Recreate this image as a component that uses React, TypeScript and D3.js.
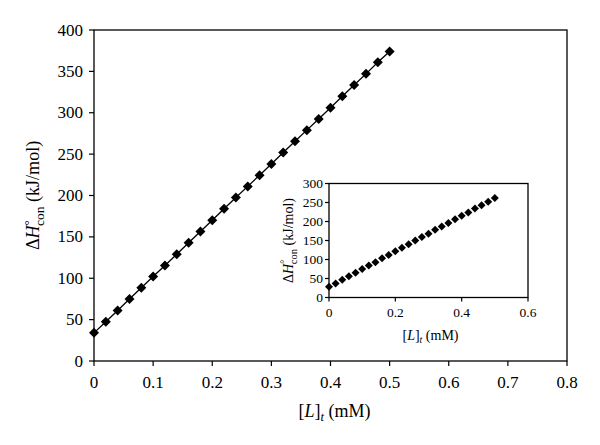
import React from "react";
import * as d3 from "d3";

const mainX = [0, 0.02, 0.04, 0.06, 0.08, 0.1, 0.12, 0.14, 0.16, 0.18, 0.2, 0.22, 0.24, 0.26, 0.28, 0.3, 0.32, 0.34, 0.36, 0.38, 0.4, 0.42, 0.44, 0.46, 0.48, 0.5];
const mainY = [34, 47.5, 61, 75, 88.5, 102, 115.5, 129, 143, 156.5, 170, 184, 197.5, 211, 224.5, 238, 252, 265.5, 279, 292.5, 306, 320, 333.5, 347, 361, 374];
const insetX = mainX;
const insetY = [28, 37, 47, 56, 65, 75, 84, 93, 103, 112, 122, 131, 140, 150, 159, 168, 178, 187, 196, 206, 215, 224, 234, 243, 252, 262];
const mainXTicks = [0, 0.1, 0.2, 0.3, 0.4, 0.5, 0.6, 0.7, 0.8];
const mainYTicks = [0, 50, 100, 150, 200, 250, 300, 350, 400];
const insetXTicks = [0, 0.2, 0.4, 0.6];
const insetYTicks = [0, 50, 100, 150, 200, 250, 300];

const FONT = "'Liberation Serif', 'Times New Roman', serif";

function Diamond({ cx, cy, r }: { cx: number; cy: number; r: number }) {
  return <path d={`M${cx},${cy - r}L${cx + r},${cy}L${cx},${cy + r}L${cx - r},${cy}Z`} fill="#000" />;
}

function Panel(props: {
  xs: number[]; ys: number[]; xTicks: number[]; yTicks: number[];
  x0: number; x1: number; y0: number; y1: number; xMax: number; yMax: number;
  fs: number; labelFs: number; r: number; tick: number; line: boolean;
  yLabelX: number; xLabelY: number; xLabelDX: number; xTickY: number; yTickX: number; fmt: (v: number) => string;
}) {
  const p = props;
  const x = d3.scaleLinear().domain([0, p.xMax]).range([p.x0, p.x1]);
  const y = d3.scaleLinear().domain([0, p.yMax]).range([p.y0, p.y1]);
  const pts = p.xs.map((v, i) => [x(v), y(p.ys[i])] as [number, number]);
  const lineGen = d3.line();
  const cy = (p.y0 + p.y1) / 2;
  const cx = (p.x0 + p.x1) / 2 + p.xLabelDX;
  return (
    <g fontFamily={FONT}>
      <rect x={p.x0} y={p.y1} width={p.x1 - p.x0} height={p.y0 - p.y1} fill="#fff" stroke="#000" strokeWidth={1.3} />
      {p.xTicks.map((t) => (
        <g key={"xt" + t}>
          <line x1={x(t)} x2={x(t)} y1={p.y0} y2={p.y0 + p.tick} stroke="#000" strokeWidth={1.2} />
          <text x={x(t)} y={p.xTickY} textAnchor="middle" fontSize={p.fs} dominantBaseline="middle">{p.fmt(t)}</text>
        </g>
      ))}
      {p.yTicks.map((t) => (
        <g key={"yt" + t}>
          <line x1={p.x0 - p.tick} x2={p.x0} y1={y(t)} y2={y(t)} stroke="#000" strokeWidth={1.2} />
          <text x={p.yTickX} y={y(t)} textAnchor="end" fontSize={p.fs} dominantBaseline="central">{t}</text>
        </g>
      ))}
      {p.line && <path d={lineGen(pts) || ""} fill="none" stroke="#000" strokeWidth={1.3} />}
      {pts.map((q, i) => <Diamond key={i} cx={q[0]} cy={q[1]} r={p.r} />)}
      <text transform={`translate(${p.yLabelX},${cy}) rotate(-90)`} textAnchor="middle" fontSize={p.labelFs}>
        Δ<tspan fontStyle="italic">H</tspan>
        <tspan fontSize={p.labelFs * 0.7} dy={-p.labelFs * 0.35}>°</tspan>
        <tspan fontSize={p.labelFs * 0.75} dx={-p.labelFs * 0.3} dy={p.labelFs * 0.6}>con</tspan>
        <tspan dy={-p.labelFs * 0.25}>{"\u00a0(kJ/mol)"}</tspan>
      </text>
      <text x={cx} y={p.xLabelY} textAnchor="middle" fontSize={p.labelFs}>
        [<tspan fontStyle="italic">L</tspan>]<tspan fontStyle="italic" fontSize={p.labelFs * 0.7} dy={p.labelFs * 0.2}>t</tspan>
        <tspan dy={-p.labelFs * 0.2}>{"\u00a0(mM)"}</tspan>
      </text>
    </g>
  );
}

export default function App() {
  return (
    <svg width={600} height={445} style={{ position: "absolute", left: 0, top: 0, background: "#fff" }}>
      <rect width={600} height={445} fill="#fff" />
      <Panel xs={mainX} ys={mainY} xTicks={mainXTicks} yTicks={mainYTicks}
        x0={94} x1={567} y0={361} y1={30} xMax={0.8} yMax={400}
        fs={17} labelFs={18} r={5} tick={5} line={true}
        yLabelX={39} xLabelY={417} xLabelDX={4} xTickY={384} yTickX={83} fmt={(v) => String(v)} />
      <Panel xs={insetX} ys={insetY} xTicks={insetXTicks} yTicks={insetYTicks}
        x0={329} x1={528} y0={297.5} y1={183.5} xMax={0.6} yMax={300}
        fs={13.5} labelFs={14} r={4} tick={4} line={false}
        yLabelX={293} xLabelY={340} xLabelDX={2} xTickY={314} yTickX={323} fmt={(v) => String(v)} />
    </svg>
  );
}
